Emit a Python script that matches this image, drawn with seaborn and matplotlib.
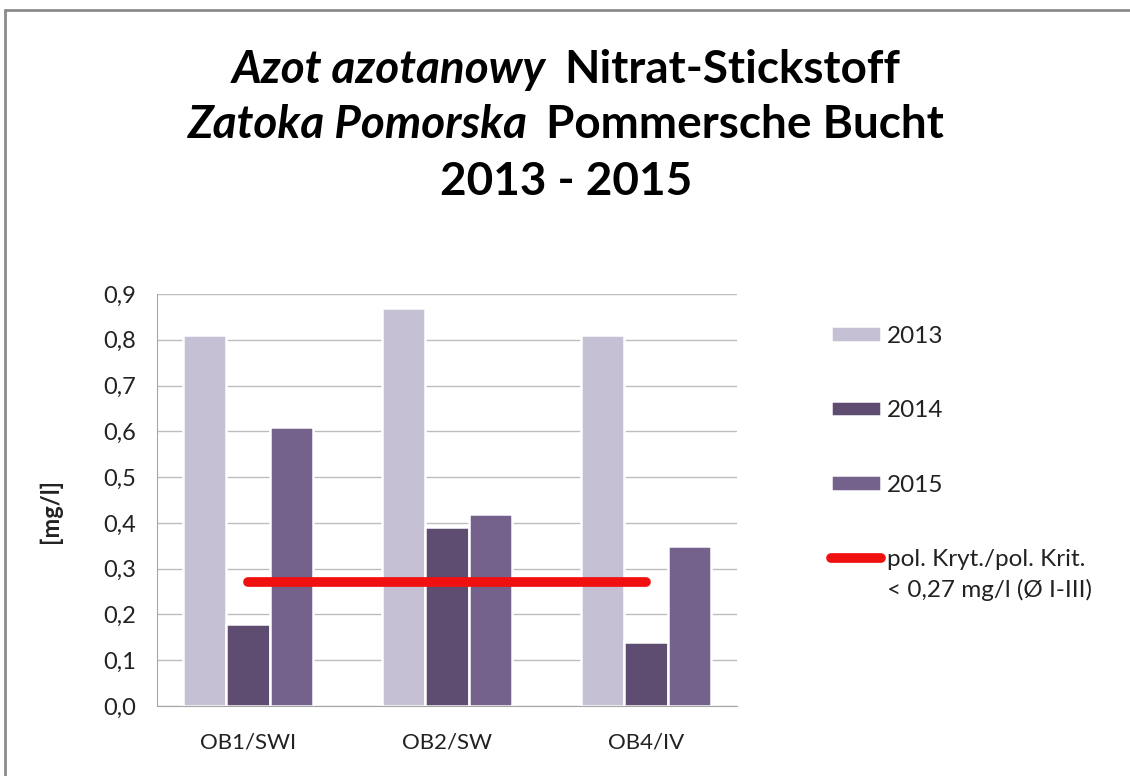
import matplotlib
matplotlib.use("Agg")
import matplotlib.pyplot as plt
from matplotlib.lines import Line2D
from matplotlib.ticker import FuncFormatter
import seaborn as sns
import pandas as pd

# dati
stazioni = ["OB1/SWI", "OB2/SW", "OB4/IV"]
anni = ["2013", "2014", "2015"]
valori_2013 = [0.81, 0.87, 0.81]
valori_2014 = [0.18, 0.39, 0.14]
valori_2015 = [0.61, 0.42, 0.35]
soglia = 0.27
etichetta_soglia = "pol. Kryt./pol. Krit."
etichetta_soglia_2 = "< 0,27 mg/l (Ø I-III)"
colori = ["#C4BDD6", "#5E4777", "#735A93"]

W, H = 1130, 776
GRIGIO_TESTO = "#222222"


def costruisci_df():
    righe = []
    for anno, serie in zip(anni, [valori_2013, valori_2014, valori_2015]):
        for st, v in zip(stazioni, serie):
            righe.append({"Stazione": st, "Anno": anno, "Valore": v})
    return pd.DataFrame(righe)


def riga_titolo(fig, renderer, parte_it, parte_bd, y, fs=33, gap=18):
    # parte corsiva + parte normale, centrate insieme
    t1 = fig.text(0, y, parte_it, fontsize=fs, fontweight="bold", style="italic",
                  va="center", ha="left", color="black")
    t2 = fig.text(0, y, parte_bd, fontsize=fs, fontweight="bold",
                  va="center", ha="left", color="black")
    w1 = t1.get_window_extent(renderer).width if parte_it else 0
    w2 = t2.get_window_extent(renderer).width
    g = gap if parte_it else 0
    tot = w1 + g + w2
    x0 = W / 2 - tot / 2 + 1
    t1.set_x(x0 / W)
    t2.set_x((x0 + w1 + g) / W)


def grafico():
    sns.set_style("white")
    plt.rcParams["font.family"] = ["Lato", "DejaVu Sans"]

    df = costruisci_df()
    fig = plt.figure(figsize=(W / 100, H / 100), dpi=100)
    ax = fig.add_axes([157 / W, 1 - 706 / H, (737 - 157) / W, (706 - 294) / H])

    sns.barplot(data=df, x="Stazione", y="Valore", hue="Anno", palette=colori,
                width=0.65, edgecolor="white", linewidth=1.8, ax=ax,
                legend=True)

    # linea della soglia
    ax.plot([0, len(stazioni) - 1], [soglia, soglia], color="#F01010",
            linewidth=7, solid_capstyle="round", zorder=5, label=etichetta_soglia)

    ax.set_ylim(0, 0.9)
    ax.set_yticks([i / 10 for i in range(10)])
    ax.yaxis.set_major_formatter(FuncFormatter(lambda v, p: f"{v:.1f}".replace(".", ",")))
    ax.grid(axis="y", color="#BDBDBD", linewidth=1)
    ax.set_axisbelow(True)
    for s in ["right", "top"]:
        ax.spines[s].set_visible(False)
    ax.spines["bottom"].set_color("#A6A6A6")
    ax.spines["left"].set_color("#A6A6A6")
    ax.tick_params(axis="y", length=0, pad=15, labelsize=17, labelcolor=GRIGIO_TESTO)
    ax.tick_params(axis="x", length=0, pad=19, labelsize=16, labelcolor=GRIGIO_TESTO)
    ax.set_xlabel("")
    ax.set_ylabel("")
    fig.text(50 / W, 1 - 511 / H, "[mg/l]", rotation=90, fontsize=17,
             fontweight="bold", va="center", ha="center", color=GRIGIO_TESTO)

    handles, labels = ax.get_legend_handles_labels()
    leg = ax.legend(handles, labels, loc="upper left", frameon=False,
                    bbox_to_anchor=(821 / W, 1 - 316 / H), bbox_transform=fig.transFigure,
                    fontsize=17.5, labelspacing=2.2, handlelength=2.05, handleheight=0.6,
                    handletextpad=0.25, borderaxespad=0, labelcolor=GRIGIO_TESTO)

    renderer = fig.canvas.get_renderer()
    # seconda riga dell'etichetta della soglia, sotto la prima
    fig.draw(renderer)
    ultimo = leg.get_texts()[-1].get_window_extent(renderer)
    fig.text(ultimo.x0 / W, (ultimo.y0 - 30) / H + (ultimo.height / 2) / H,
             etichetta_soglia_2, fontsize=17.5, va="center", ha="left",
             color=GRIGIO_TESTO)

    # titolo
    riga_titolo(fig, renderer, "Azot azotanowy", "Nitrat-Stickstoff", 1 - 70 / H)
    riga_titolo(fig, renderer, "Zatoka Pomorska", "Pommersche Bucht", 1 - 125 / H)
    riga_titolo(fig, renderer, "", "2013 - 2015", 1 - 182 / H)

    # cornice grigia
    fig.add_artist(Line2D([5 / W, 1], [1 - 10 / H] * 2, transform=fig.transFigure,
                          color="#8C8C8C", linewidth=2))
    fig.add_artist(Line2D([5 / W] * 2, [0, 1 - 10 / H], transform=fig.transFigure,
                          color="#8C8C8C", linewidth=2))

    fig.savefig("out.png", dpi=100)


if __name__ == "__main__":
    grafico()
